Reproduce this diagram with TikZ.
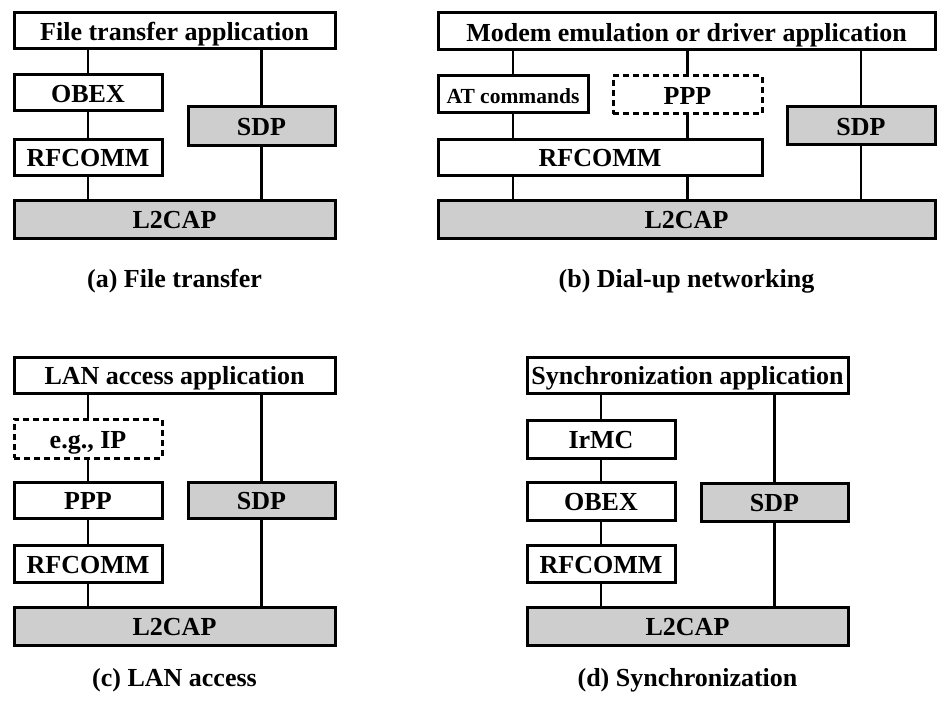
\documentclass[tikz,border=0pt]{standalone}
\usepackage{fontspec}
\setmainfont{Liberation Serif}
\definecolor{boxgray}{RGB}{206,206,206}

\begin{document}
\begin{tikzpicture}[x=1pt, y=-1pt]

        % Setup the styles for the layers
        \tikzset{layer/.style={draw, rectangle,
                               line width=3pt,
                               inner sep=0pt,
                               text height=22pt, text depth=2.6pt,
                               font=\fontsize{26}{30}\selectfont\bfseries},
                 core layer/.style={layer, fill=boxgray},
                 opt layer/.style={layer, dash pattern=on 6pt off 4pt},
                 link/.style={line width=2.4pt},
                 caption/.style={anchor=base, inner sep=0pt,
                                 font=\fontsize{26}{30}\selectfont\bfseries}}
        \useasboundingbox (0,0) rectangle (944,706);

        % (a) File transfer
        \node[layer, minimum width=321pt, minimum height=36pt] at (174.5, 31)  (fapp)   {File transfer application};
        \node[layer, minimum width=148pt, minimum height=36pt] at (88, 93)     (aobex)  {OBEX};
        \node[layer, minimum width=148pt, minimum height=36pt] at (88, 157)    (arfc)   {RFCOMM};
        \node[core layer, minimum width=147pt, minimum height=38pt] at (261.5, 126) (asdp) {SDP};
        \node[core layer, minimum width=321pt, minimum height=38pt] at (174.5, 219) (al2cap) {L2CAP};
        \draw[link] (aobex.north) -- (aobex.north |- fapp.south);
        \draw[link] (arfc.north) -- (arfc.north |- aobex.south);
        \draw[link] (arfc.south) -- (arfc.south |- al2cap.north);
        \draw[link] (asdp.north) -- (asdp.north |- fapp.south);
        \draw[link] (asdp.south) -- (asdp.south |- al2cap.north);
        \node[caption] at (174.5, 287) (capa) {(a) File transfer};

        % (b) Dial-up networking
        \node[layer, minimum width=497pt, minimum height=37pt] at (686.5, 31.5) (mapp) {Modem emulation or driver application};
        \node[layer, minimum width=150pt, minimum height=37pt,
              text height=19pt, text depth=2pt,
              font=\fontsize{21.5}{25}\selectfont\bfseries] at (513, 94.5) (bat) {AT commands};
        \node[opt layer, minimum width=149pt, minimum height=38pt] at (687.5, 95) (bppp) {PPP};
        \node[layer, minimum width=324pt, minimum height=36pt] at (600, 157)  (brfc)   {RFCOMM};
        \node[core layer, minimum width=148pt, minimum height=37pt] at (861, 125.5) (bsdp) {SDP};
        \node[core layer, minimum width=497pt, minimum height=38pt] at (686.5, 219) (bl2cap) {L2CAP};
        \draw[link] (bat.north) -- (bat.north |- mapp.south);
        \draw[link] (bppp.north) -- (bppp.north |- mapp.south);
        \draw[link] (bsdp.north) -- (bsdp.north |- mapp.south);
        \draw[link] (bat.south) -- (bat.south |- brfc.north);
        \draw[link] (bppp.south) -- (bppp.south |- brfc.north);
        \draw[link] (bat.south |- brfc.south) -- (bat.south |- bl2cap.north);
        \draw[link] (bppp.south |- brfc.south) -- (bppp.south |- bl2cap.north);
        \draw[link] (bsdp.south) -- (bsdp.south |- bl2cap.north);
        \node[caption] at (686.5, 287) (capb) {(b) Dial-up networking};

        % (c) LAN access
        \node[layer, minimum width=321pt, minimum height=36pt] at (174.5, 375) (lapp) {LAN access application};
        \node[opt layer, minimum width=148pt, minimum height=39pt] at (88, 438.5) (cip) {e.g., IP};
        \node[layer, minimum width=148pt, minimum height=36pt] at (88, 500)    (cppp)   {PPP};
        \node[core layer, minimum width=147pt, minimum height=36pt] at (261.5, 500) (csdp) {SDP};
        \node[layer, minimum width=148pt, minimum height=37pt] at (88, 563.5)  (crfc)   {RFCOMM};
        \node[core layer, minimum width=321pt, minimum height=38pt] at (174.5, 626) (cl2cap) {L2CAP};
        \draw[link] (cip.north) -- (cip.north |- lapp.south);
        \draw[link] (cppp.north) -- (cppp.north |- cip.south);
        \draw[link] (crfc.north) -- (crfc.north |- cppp.south);
        \draw[link] (crfc.south) -- (crfc.south |- cl2cap.north);
        \draw[link] (csdp.north) -- (csdp.north |- lapp.south);
        \draw[link] (csdp.south) -- (csdp.south |- cl2cap.north);
        \node[caption] at (174.5, 686) (capc) {(c) LAN access};

        % (d) Synchronization
        \node[layer, minimum width=321pt, minimum height=36pt] at (687.5, 375) (sapp) {Synchronization application};
        \node[layer, minimum width=148pt, minimum height=38pt] at (601, 439)   (dirmc)  {IrMC};
        \node[layer, minimum width=148pt, minimum height=38pt] at (601, 501)   (dobex)  {OBEX};
        \node[core layer, minimum width=147pt, minimum height=38pt] at (774.5, 502) (dsdp) {SDP};
        \node[layer, minimum width=148pt, minimum height=37pt] at (601, 563.5) (drfc)   {RFCOMM};
        \node[core layer, minimum width=321pt, minimum height=38pt] at (687.5, 626) (dl2cap) {L2CAP};
        \draw[link] (dirmc.north) -- (dirmc.north |- sapp.south);
        \draw[link] (dobex.north) -- (dobex.north |- dirmc.south);
        \draw[link] (drfc.north) -- (drfc.north |- dobex.south);
        \draw[link] (drfc.south) -- (drfc.south |- dl2cap.north);
        \draw[link] (dsdp.north) -- (dsdp.north |- sapp.south);
        \draw[link] (dsdp.south) -- (dsdp.south |- dl2cap.north);
        \node[caption] at (687.5, 686) (capd) {(d) Synchronization};
    \end{tikzpicture}
\end{document}
